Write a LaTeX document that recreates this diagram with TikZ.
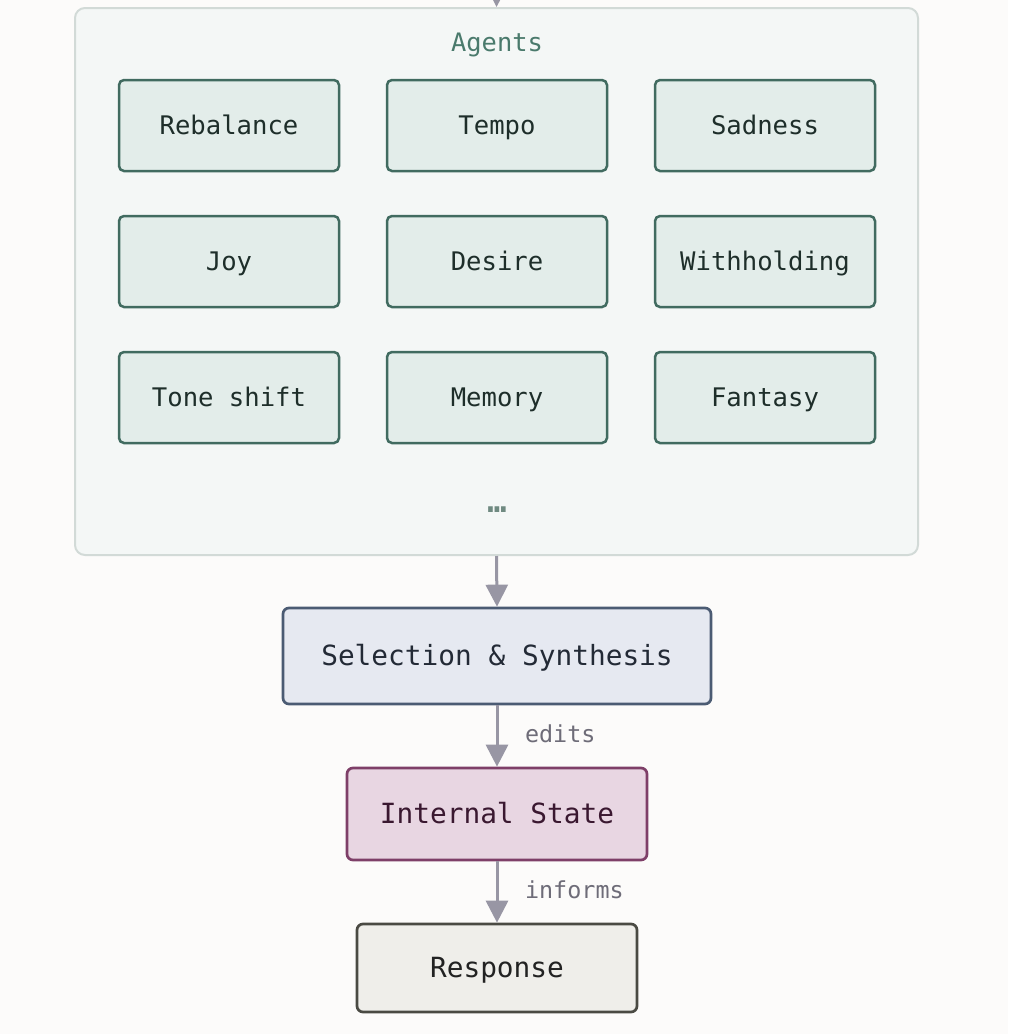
\documentclass[tikz,border=0pt]{standalone}
\usepackage{fontspec}
\setmonofont{DejaVu Sans Mono}
\usetikzlibrary{arrows.meta, positioning}

\definecolor{pagebg}{HTML}{FCFBFA}
\definecolor{groupfill}{HTML}{F4F7F6}
\definecolor{groupline}{HTML}{D2DAD7}
\definecolor{grouptext}{HTML}{4A7A6C}
\definecolor{dotsgray}{HTML}{6F8A81}
\definecolor{agentfill}{HTML}{E3EDEA}
\definecolor{agentline}{HTML}{416B60}
\definecolor{agenttext}{HTML}{1E2E2A}
\definecolor{selfill}{HTML}{E6E9F1}
\definecolor{selline}{HTML}{4B5B73}
\definecolor{seltext}{HTML}{232A36}
\definecolor{statefill}{HTML}{E8D6E2}
\definecolor{stateline}{HTML}{7E3F68}
\definecolor{statetext}{HTML}{3A1830}
\definecolor{respfill}{HTML}{EFEEEA}
\definecolor{respline}{HTML}{4A4A43}
\definecolor{resptext}{HTML}{222222}
\definecolor{arrowgray}{HTML}{9896A4}
\definecolor{labelgray}{HTML}{6E6C78}

\begin{document}
\begin{tikzpicture}[x=0.5pt, y=-0.5pt,
  agent/.style={draw=agentline, fill=agentfill, text=agenttext, line width=1.25pt,
    rounded corners=2.5pt, minimum width=110pt, minimum height=45.5pt,
    text height=2.3ex, text depth=0.2ex,
    font=\ttfamily\fontsize{12.8}{15}\selectfont},
  mainbox/.style={line width=1.35pt, rounded corners=3pt,
    text height=2.3ex, text depth=0.2ex,
    font=\ttfamily\fontsize{13.9}{16}\selectfont},
  flow/.style={draw=arrowgray, line width=1.5pt, -{Triangle[length=11pt,width=11pt]}},
  edgelabel/.style={text=labelgray, font=\ttfamily\fontsize{11.7}{14}\selectfont}]

\fill[pagebg] (0,0) rectangle (1008,1034);
\clip (0,0) rectangle (1008,1034);

% Agents group
\node[draw=groupline, fill=groupfill, line width=1pt, rounded corners=5pt,
  minimum width=421.5pt, minimum height=273.5pt] (agents) at (496.5,281.5) {};
\node[text=grouptext, text height=2.3ex, text depth=0.2ex,
  font=\ttfamily\fontsize{12.7}{15}\selectfont] (agentstitle) at (497,42) {Agents};

\node[agent] (rebalance) at (229,125.5) {Rebalance};
\node[agent] (tempo) at (497,125.5) {Tempo};
\node[agent] (sadness) at (765,125.5) {Sadness};
\node[agent] (joy) at (229,261.5) {Joy};
\node[agent] (desire) at (497,261.5) {Desire};
\node[agent] (withholding) at (765,261.5) {Withholding};
\node[agent] (toneshift) at (229,397.5) {Tone shift};
\node[agent] (memory) at (497,397.5) {Memory};
\node[agent] (fantasy) at (765,397.5) {Fantasy};

\node[text=dotsgray, font=\ttfamily\bfseries\fontsize{16}{18}\selectfont] (more) at (497,510) {…};

% Pipeline
\node[mainbox, draw=selline, fill=selfill, text=seltext,
  minimum width=214pt, minimum height=48pt] (synthesis) at (497,656) {Selection \& Synthesis};
\node[mainbox, draw=stateline, fill=statefill, text=statetext,
  minimum width=150pt, minimum height=46pt] (state) at (497,814) {Internal State};
\node[mainbox, draw=respline, fill=respfill, text=resptext,
  minimum width=140pt, minimum height=44pt] (response) at (497,968) {Response};

% Connectors
\coordinate (input) at (497,-30);
\draw[flow] (input) -- (agents.north);
\draw[flow] (agents.south) -- (synthesis.north);
\draw[flow] (synthesis.south) -- (state.north);
\draw[flow] (state.south) -- (response.north);

\node[edgelabel, anchor=west] (editslabel) at (518,734) {edits};
\node[edgelabel, anchor=west] (informslabel) at (518,890) {informs};
\end{tikzpicture}
\end{document}
